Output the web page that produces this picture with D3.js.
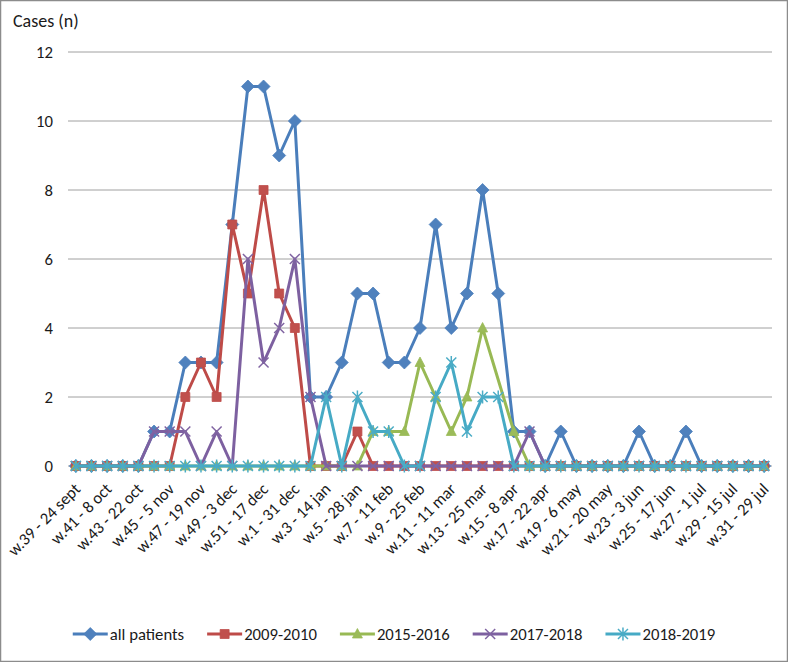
<!DOCTYPE html>
<html>
<head>
<meta charset="utf-8">
<script src="https://cdn.jsdelivr.net/npm/d3@7/dist/d3.min.js"></script>
<style>
  body { margin: 0; background: #fff; }
  svg { display: block; font-family: Calibri, Carlito, Lato, sans-serif; }
</style>
</head>
<body>
<svg width="788" height="662"></svg>
<script>
// week numbers, one per point (season runs from w.39 to w.31 of next year)
var weeks = [39, 40, 41, 42, 43, 44, 45, 46, 47, 48, 49, 50, 51, 52,
  1, 2, 3, 4, 5, 6, 7, 8, 9, 10, 11, 12, 13, 14, 15, 16,
  17, 18, 19, 20, 21, 22, 23, 24, 25, 26, 27, 28, 29, 30, 31];

var tickWeeks = [39, 41, 43, 45, 47, 49, 51, 1, 3, 5, 7, 9, 11, 13, 15, 17, 19, 21, 23, 25, 27, 29, 31];
var tickLabels = ["w.39 - 24 sept", "w.41 - 8 oct", "w.43 - 22 oct", "w.45 - 5 nov", "w.47 - 19 nov",
  "w.49 - 3 dec", "w.51 - 17 dec", "w.1 - 31 dec", "w.3 - 14 jan", "w.5 - 28 jan", "w.7 - 11 feb",
  "w.9 - 25 feb", "w.11 - 11 mar", "w.13 - 25 mar", "w.15 - 8 apr", "w.17 - 22 apr", "w.19 - 6 may",
  "w.21 - 20 may", "w.23 - 3 jun", "w.25 - 17 jun", "w.27 - 1 jul", "w.29 - 15 jul", "w.31 - 29 jul"];

var yTicks = [0, 2, 4, 6, 8, 10, 12];

var allPatients = [0, 0, 0, 0, 0, 1, 1, 3, 3, 3, 7, 11, 11, 9, 10, 2, 2, 3, 5, 5, 3, 3, 4, 7, 4,
  5, 8, 5, 1, 1, 0, 1, 0, 0, 0, 0, 1, 0, 0, 1, 0, 0, 0, 0, 0];
var s2009 = [0, 0, 0, 0, 0, 0, 0, 2, 3, 2, 7, 5, 8, 5, 4, 0, 0, 0, 1, 0, 0, 0, 0, 0, 0,
  0, 0, 0, 0, 0, 0, 0, 0, 0, 0, 0, 0, 0, 0, 0, 0, 0, 0, 0, 0];
var s2015 = [0, 0, 0, 0, 0, 0, 0, 0, 0, 0, 0, 0, 0, 0, 0, 0, 0, 0, 0, 1, 1, 1, 3, 2, 1,
  2, 4, null, 1, 0, 0, 0, 0, 0, 0, 0, 0, 0, 0, 0, 0, 0, 0, 0, 0];
var s2017 = [0, 0, 0, 0, 0, 1, 1, 1, 0, 1, 0, 6, 3, 4, 6, 2, 0, 0, 0, 0, 0, 0, 0, 0, 0,
  0, 0, 0, 0, 1, 0, 0, 0, 0, 0, 0, 0, 0, 0, 0, 0, 0, 0, 0, 0];
var s2018 = [0, 0, 0, 0, 0, 0, 0, 0, 0, 0, 0, 0, 0, 0, 0, 0, 2, 0, 2, 1, 1, 0, 0, 2, 3,
  1, 2, 2, 0, 0, 0, 0, 0, 0, 0, 0, 0, 0, 0, 0, 0, 0, 0, 0, 0];

var seriesNames = ["all patients", "2009-2010", "2015-2016", "2017-2018", "2018-2019"];
var seriesValues = [allPatients, s2009, s2015, s2017, s2018];

var lineColors = ["#4a7ebb", "#be4b48", "#98b954", "#7d60a0", "#46aac5"];
var markColors = ["#4f81bd", "#c0504d", "#9bbb59", "#8064a2", "#4bacc6"];

// excel style marker shapes
var markers = [
  {path: "M0,-6.5L6.5,0L0,6.5L-6.5,0Z", fill: true},
  {path: "M-4.5,-4.5H4.5V4.5H-4.5Z", fill: true},
  {path: "M0,-5.5L5,4L-5,4Z", fill: true},
  {path: "M-5,-5L5,5M-5,5L5,-5", fill: false},
  {path: "M-5,-5L5,5M-5,5L5,-5M0,-6.5V6.5", fill: false}
];

var svg = d3.select("svg");
var W = 788, H = 662;
var margin = {left: 68, right: 16, top: 52, bottom: 196};
var textColor = "#1a1a1a";

svg.append("rect")
  .attr("x", 0.5).attr("y", 0.5)
  .attr("width", W - 1).attr("height", H - 1)
  .attr("fill", "#fff").attr("stroke", "#8c8c8c").attr("stroke-width", 1.5);

var x = d3.scalePoint()
  .domain(weeks)
  .range([margin.left, W - margin.right])
  .padding(0.5);

var y = d3.scaleLinear()
  .domain([0, 12])
  .range([H - margin.bottom, margin.top]);

// gridlines
svg.append("g")
  .selectAll("line")
  .data(yTicks)
  .enter().append("line")
  .attr("x1", margin.left).attr("x2", W - margin.right)
  .attr("y1", d => y(d)).attr("y2", d => y(d))
  .attr("stroke", "#a0a0a0").attr("stroke-width", 1);

// y axis labels
var yAxis = svg.append("g")
  .attr("transform", `translate(${margin.left},0)`)
  .call(d3.axisLeft(y).tickValues(yTicks).tickSize(0).tickPadding(15).tickFormat(d3.format("d")));
yAxis.select(".domain").remove();
yAxis.selectAll(".tick text")
  .attr("font-size", "16.7px")
  .attr("fill", textColor)
  .style("font-family", "Calibri, Carlito, Lato, sans-serif");

svg.append("text")
  .attr("x", 13).attr("y", 27)
  .attr("font-size", "18px")
  .attr("fill", textColor)
  .text("Cases (n)");

// x axis labels, rotated
var xAxis = svg.append("g")
  .attr("transform", `translate(0,${y(0)})`)
  .call(d3.axisBottom(x).tickValues(tickWeeks).tickSize(0)
    .tickFormat((d, i) => tickLabels[i]));
xAxis.select(".domain").remove();
xAxis.selectAll(".tick text")
  .attr("font-size", "16.7px")
  .attr("fill", textColor)
  .style("font-family", "Calibri, Carlito, Lato, sans-serif")
  .attr("text-anchor", "end")
  .attr("y", 0).attr("dy", "0.35em")
  .attr("transform", "translate(1,20) rotate(-45)");

var line = d3.line()
  .x(d => x(d.week))
  .y(d => y(d.value));

seriesValues.forEach(function (vals, k) {
  var pts = weeks.map((w, i) => ({week: w, value: vals[i]}))
    .filter(d => d.value !== null);

  var g = svg.append("g").attr("class", "series");

  g.append("path")
    .datum(pts)
    .attr("fill", "none")
    .attr("stroke", lineColors[k])
    .attr("stroke-width", 3)
    .attr("stroke-linejoin", "round")
    .attr("d", line);

  g.selectAll(".mark")
    .data(pts)
    .enter().append("path")
    .attr("class", "mark")
    .attr("transform", d => `translate(${x(d.week)},${y(d.value)})`)
    .attr("d", markers[k].path)
    .attr("fill", markers[k].fill ? markColors[k] : "none")
    .attr("stroke", markers[k].fill ? lineColors[k] : markColors[k])
    .attr("stroke-width", markers[k].fill ? 0.75 : 1.5);
});

// legend
var legend = svg.append("g").attr("transform", "translate(0,634)");
var items = legend.selectAll("g")
  .data(seriesNames)
  .enter().append("g");

items.append("line")
  .attr("x1", 0).attr("x2", 35)
  .attr("stroke", (d, i) => lineColors[i])
  .attr("stroke-width", 3);

items.append("path")
  .attr("transform", "translate(17.5,0)")
  .attr("d", (d, i) => markers[i].path)
  .attr("fill", (d, i) => markers[i].fill ? markColors[i] : "none")
  .attr("stroke", (d, i) => markers[i].fill ? lineColors[i] : markColors[i])
  .attr("stroke-width", (d, i) => markers[i].fill ? 0.75 : 1.5);

items.append("text")
  .attr("x", 37).attr("dy", "0.35em")
  .attr("font-size", "16.7px")
  .attr("fill", textColor)
  .text(d => d);

var widths = [];
items.each(function () {
  var tw = d3.select(this).select("text").node().getComputedTextLength();
  widths.push(37 + tw);
});
var gap = 23;
var total = d3.sum(widths) + gap * (widths.length - 1);
var xpos = (W - total) / 2;
items.attr("transform", function (d, i) {
  var t = `translate(${xpos},0)`;
  xpos += widths[i] + gap;
  return t;
});
</script>
</body>
</html>
